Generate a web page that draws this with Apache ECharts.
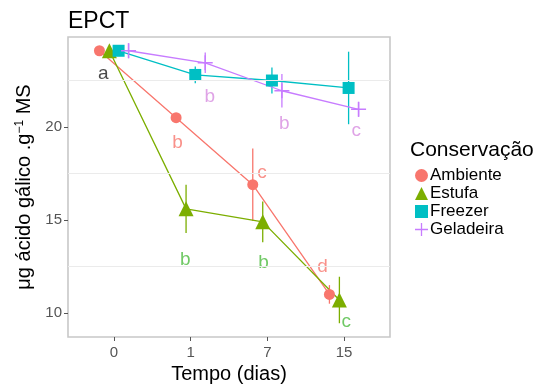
<!DOCTYPE html>
<html>
<head>
<meta charset="utf-8">
<script src="https://cdn.jsdelivr.net/npm/echarts@6/dist/echarts.min.js"></script>
<style>
  html, body { margin: 0; padding: 0; background: #fff; }
  #chart { width: 539px; height: 385px; }
</style>
</head>
<body>
<div id="chart"></div>
<script>
// dados
const days = ['0', '1', '7', '15'];
const groups = ['Ambiente', 'Estufa', 'Freezer', 'Geladeira'];

const ambiente = [24.1, 20.5, 16.9, 11.0];
const ambienteErr = [0.1, 0.1, 1.95, 0.5];
const estufa = [24.1, 15.6, 14.9, 10.7];
const estufaErr = [0.1, 1.3, 1.1, 1.25];
const freezer = [24.1, 22.8, 22.5, 22.1];
const freezerErr = [0.1, 0.45, 0.7, 1.95];
const geladeira = [24.1, 23.45, 21.95, 20.95];
const geladeiraErr = [0.4, 0.55, 0.9, 0.4];

// letras (teste de médias)
const ambienteLetters = ['', 'b', 'c', 'd'];
const ambienteLetterY = [0, 19.15, 17.55, 12.5];
const estufaLetters = ['', 'b', 'b', 'c'];
const estufaLetterY = [0, 12.85, 12.7, 9.55];
const geladeiraLetters = ['', 'b', 'b', 'c'];
const geladeiraLetterY = [0, 21.6, 20.15, 19.8];
const commonLetter = 'a';
const commonLetterY = 22.85;

const yTicks = [10, 15, 20];
const yMinor = [12.5, 17.5, 22.5];

const colors = ['#F8766D', '#7CAE00', '#00BFC4', '#C77CFF'];
const letterColors = ['#F8766D', '#4CBB3E', '#00BFC4', '#D78CE0'];
const dodge = [-0.19, -0.06, 0.06, 0.19];
const plusPath = 'path://M-1,-10h2v20h-2zM-10,-1h20v2h-20z';
const symbols = ['circle', 'triangle', 'rect', plusPath];
const symbolSizes = [11, 15, 12, 15];

const values = [ambiente, estufa, freezer, geladeira];
const errs = [ambienteErr, estufaErr, freezerErr, geladeiraErr];

var myChart = echarts.init(document.getElementById('chart'));
var series = [];

values.forEach(function (vals, g) {
  // barras de erro
  series.push({
    type: 'custom',
    name: groups[g] + '_err',
    z: 2,
    silent: true,
    data: vals.map(function (v, i) { return [i + dodge[g], v - errs[g][i], v + errs[g][i]]; }),
    renderItem: function (params, api) {
      var p1 = api.coord([api.value(0), api.value(1)]);
      var p2 = api.coord([api.value(0), api.value(2)]);
      return {
        type: 'line',
        shape: { x1: p1[0], y1: p1[1], x2: p2[0], y2: p2[1] },
        style: { stroke: colors[g], lineWidth: 1.3 }
      };
    }
  });
  series.push({
    type: 'line',
    name: groups[g],
    z: 3,
    data: vals.map(function (v, i) { return [i + dodge[g], v]; }),
    symbol: symbols[g],
    symbolSize: symbolSizes[g],
    showAllSymbol: true,
    itemStyle: { color: colors[g] },
    lineStyle: { color: colors[g], width: 1.3 },
    animation: false
  });
});

// letras
function letterSeries(letters, ys, nudge, color) {
  var d = [];
  letters.forEach(function (l, i) {
    if (l) d.push([i + nudge[i], ys[i], l]);
  });
  return {
    type: 'scatter',
    symbolSize: 0,
    z: 4,
    silent: true,
    data: d,
    label: {
      show: true,
      position: 'inside',
      formatter: function (p) { return p.data[2]; },
      fontSize: 19,
      fontFamily: 'Liberation Sans, Arial, sans-serif',
      color: color
    }
  };
}
series.push(letterSeries(ambienteLetters, ambienteLetterY, [0, -0.17, -0.07, -0.28], letterColors[0]));
series.push(letterSeries(estufaLetters, estufaLetterY, [0, -0.07, -0.05, 0.03], letterColors[1]));
series.push(letterSeries(geladeiraLetters, geladeiraLetterY, [0, 0.25, 0.22, 0.16], letterColors[3]));
series.push(letterSeries([commonLetter], [commonLetterY], [-0.14], '#1a1a1a'));

// linhas de grade secundárias
series.push({
  type: 'line',
  data: [],
  z: 1,
  silent: true,
  markLine: {
    silent: true,
    symbol: 'none',
    label: { show: false },
    lineStyle: { color: '#ebebeb', width: 1, type: 'solid' },
    data: yMinor.map(function (v) { return { yAxis: v }; })
  }
});

myChart.setOption({
  animation: false,
  textStyle: { fontFamily: 'Liberation Sans, Arial, sans-serif' },
  grid: {
    left: 68, top: 37, right: 149, bottom: 48,
    outerBoundsMode: 'none',
    containLabel: false,
    show: true, borderColor: '#c8c8c8', borderWidth: 1.6,
    backgroundColor: 'transparent'
  },
  title: {
    text: 'EPCT', left: 63, top: 5,
    textStyle: { fontSize: 23, fontWeight: 'normal', color: '#000' }
  },
  legend: {
    orient: 'vertical',
    left: 410, top: 162,
    itemWidth: 13, itemHeight: 13, itemGap: 1,
    textStyle: { fontSize: 17, lineHeight: 17, color: '#000', padding: [0, 0, 0, -3] },
    data: groups.map(function (n, g) { return { name: n, icon: symbols[g] }; }),
    selectedMode: false
  },
  graphic: [{
    type: 'text', left: 410, top: 140,
    style: { text: 'Conservação', fontSize: 21, fill: '#000', fontFamily: 'Liberation Sans, Arial, sans-serif' }
  }],
  xAxis: {
    type: 'value', min: -0.6, max: 3.6,
    name: 'Tempo (dias)', nameLocation: 'middle', nameGap: 27,
    nameTextStyle: { fontSize: 20, color: '#000' },
    axisLine: { show: false, onZero: false },
    axisTick: { show: true, customValues: [0, 1, 2, 3], length: 4, lineStyle: { color: '#555' } },
    axisLabel: {
      customValues: [0, 1, 2, 3], fontSize: 15, color: '#555', margin: 8,
      formatter: function (v) { return days[Math.round(v)]; }
    },
    splitLine: { show: false }
  },
  yAxis: {
    type: 'value', min: 8.71, max: 24.84,
    name: '{a|μg ácido gálico .g}{s|−1}{a| MS}',
    nameLocation: 'middle', nameGap: 29, nameRotate: 90,
    nameTextStyle: {
      rich: {
        a: { fontSize: 20, color: '#000', lineHeight: 22 },
        s: { fontSize: 12, color: '#000', lineHeight: 22, verticalAlign: 'top' }
      }
    },
    axisLine: { show: false, onZero: false },
    axisTick: { show: true, customValues: yTicks, length: 4, lineStyle: { color: '#555' } },
    axisLabel: { customValues: yTicks, fontSize: 15, color: '#555', margin: 6 },
    splitLine: { show: false }
  },
  series: series
});
</script>
</body>
</html>
